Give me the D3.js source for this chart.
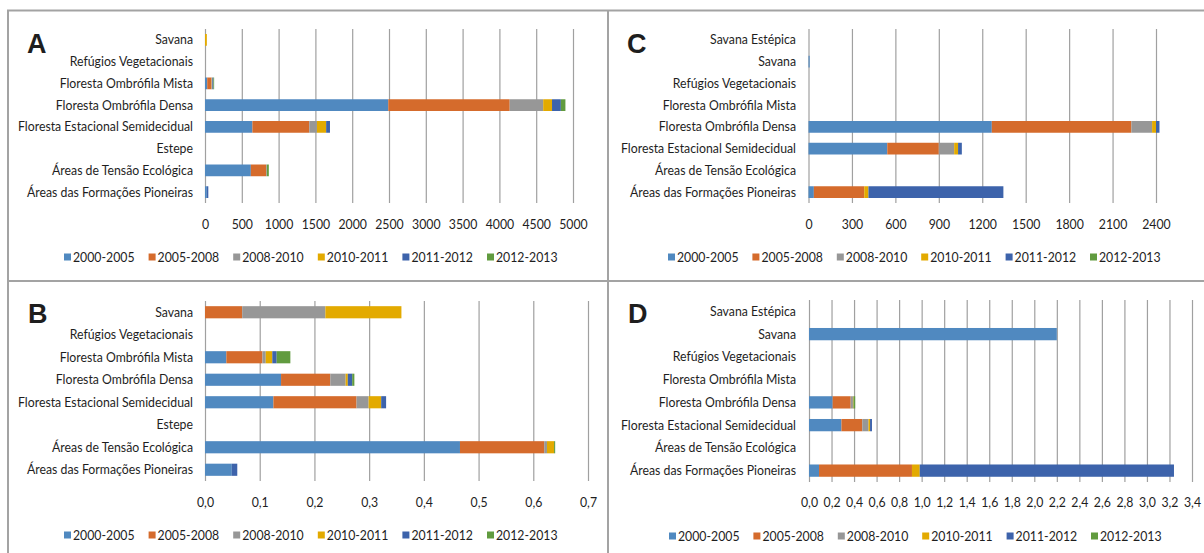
<!DOCTYPE html>
<html><head><meta charset="utf-8">
<script src="https://cdn.jsdelivr.net/npm/d3@7"></script>
<style>
html,body{margin:0;padding:0;background:#fff;}
svg{display:block;}
.t{font-family:Lato,"Open Sans",sans-serif;font-size:13px;fill:#1e1e1e;}
.letter{font-family:"Liberation Sans",Arial,sans-serif;font-weight:bold;font-size:27px;fill:#1e1e1e;}
</style></head>
<body>
<svg id="chart" width="1204" height="553"></svg>
<script>
const seriesNames = ["2000-2005","2005-2008","2008-2010","2010-2011","2011-2012","2012-2013"];
const seriesColors = ["#5089C0","#D56B2C","#979797","#E3AA00","#3D63AB","#619B3F"];

const catsAB = ["Savana","Refúgios Vegetacionais","Floresta Ombrófila Mista","Floresta Ombrófila Densa","Floresta Estacional Semidecidual","Estepe","Áreas de Tensão Ecológica","Áreas das Formações Pioneiras"];
const catsCD = ["Savana Estépica","Savana","Refúgios Vegetacionais","Floresta Ombrófila Mista","Floresta Ombrófila Densa","Floresta Estacional Semidecidual","Áreas de Tensão Ecológica","Áreas das Formações Pioneiras"];

// rows = categories, columns = series (2000-2005 ... 2012-2013)
const valuesA = [
  [0,0,0,25,0,0],
  [0,0,0,0,0,0],
  [30,58,5,6,15,10],
  [2490,1650,455,120,120,62],
  [644,773,104,125,52,0],
  [0,0,0,0,0,0],
  [623,208,10,0,0,26],
  [25,0,0,0,20,0]
];
const valuesB = [
  [0,0.068,0.152,0.139,0,0],
  [0,0,0,0,0,0],
  [0.039,0.066,0.006,0.012,0.008,0.025],
  [0.139,0.090,0.028,0.004,0.008,0.004],
  [0.125,0.152,0.022,0.023,0.009,0],
  [0,0,0,0,0,0],
  [0.466,0.154,0.005,0.013,0,0.002],
  [0.049,0,0,0,0.010,0]
];
const valuesC = [
  [0,0,0,0,0,0],
  [8,0,0,0,0,0],
  [0,0,0,0,0,0],
  [0,0,0,0,0,0],
  [1266,964,143,27,24,0],
  [544,356,106,27,26,0],
  [0,0,0,0,0,0],
  [37,348,0,29,932,0]
];
const valuesD = [
  [0,0,0,0,0,0],
  [2.2,0,0,0,0,0],
  [0,0,0,0,0,0],
  [0,0,0,0,0,0],
  [0.21,0.16,0.02,0.005,0,0.015],
  [0.288,0.185,0.055,0.014,0.017,0],
  [0,0,0,0,0,0],
  [0.089,0.825,0,0.069,2.257,0]
];
const ticksA = d3.range(0, 5001, 500);
const ticksB = d3.range(0, 8).map(i => i / 10);
const ticksC = d3.range(0, 2401, 300);
const ticksD = d3.range(0, 18).map(i => i / 5);

const svg = d3.select("#chart");
const commaFmt = d => d3.format(".1f")(d).replace(".", ",");

// frame lines
const frame = svg.append("g").attr("stroke","#A3A3A3").attr("stroke-width",2);
frame.append("line").attr("x1",7).attr("x2",1204).attr("y1",10.5).attr("y2",10.5);
frame.append("line").attr("x1",8).attr("x2",8).attr("y1",10).attr("y2",553);
frame.append("line").attr("x1",608).attr("x2",608).attr("y1",10).attr("y2",553);
frame.append("line").attr("x1",8).attr("x2",1204).attr("y1",281).attr("y2",281);

function panel(cfg){
  const g = svg.append("g");
  const x = d3.scaleLinear().domain([0, cfg.max]).range([cfg.x0, cfg.x1]);
  const y = d3.scaleBand().domain(cfg.cats).range([cfg.y0, cfg.y1]).paddingInner(0.46).paddingOuter(0.23);

  // gridlines
  g.append("g").attr("transform", `translate(0,${cfg.y1})`)
    .call(d3.axisBottom(x).tickValues(cfg.ticks).tickSize(-(cfg.y1 - cfg.y0)).tickFormat(""))
    .call(a => a.select(".domain").remove())
    .call(a => a.selectAll("line").attr("stroke","#A0A0A0").attr("stroke-width",1.2));

  // tick labels
  g.append("g").attr("transform", `translate(0,${cfg.tickY})`)
    .call(d3.axisBottom(x).tickValues(cfg.ticks).tickSize(0).tickPadding(0).tickFormat(cfg.fmt))
    .call(a => a.select(".domain").remove())
    .call(a => a.selectAll("text").attr("class","t").attr("dy","0.35em").attr("y",0));

  // stacked bars
  const rows = cfg.cats.map((c, i) => {
    const o = {cat: c};
    seriesNames.forEach((s, j) => o[s] = cfg.values[i][j]);
    return o;
  });
  const stack = d3.stack().keys(seriesNames)(rows);
  g.append("g").selectAll("g").data(stack).join("g")
    .attr("fill", (d, i) => seriesColors[i])
    .selectAll("rect").data(d => d.filter(p => p[1] - p[0] > 0)).join("rect")
    .attr("x", p => x(p[0]))
    .attr("width", p => x(p[1]) - x(p[0]))
    .attr("y", p => y(p.data.cat))
    .attr("height", y.bandwidth());

  // category labels
  g.append("g").selectAll("text").data(cfg.cats).join("text")
    .attr("class","t cat")
    .attr("x", cfg.labelX)
    .attr("y", c => y(c) + y.bandwidth() / 2)
    .attr("dy","0.35em")
    .attr("text-anchor","end")
    .text(c => c);

  // letter
  g.append("text").attr("class","letter").attr("x", cfg.lx).attr("y", cfg.ly).text(cfg.letter);

  // legend
  const lg = g.append("g").selectAll("g").data(seriesNames).join("g")
    .attr("transform", (d, i) => `translate(${cfg.legX + i * cfg.legStep},${cfg.legY})`);
  lg.append("rect").attr("x",0).attr("y",-3.5).attr("width",7).attr("height",7)
    .attr("fill", (d, i) => seriesColors[i]);
  lg.append("text").attr("class","t leg").attr("x",9).attr("y",0).attr("dy","0.35em").text(d => d);
}

panel({letter:"A", lx:27, ly:53, cats:catsAB, values:valuesA, max:5000, ticks:ticksA, fmt:d3.format("d"),
  x0:205, x1:573, y0:29, y1:203, labelX:193, tickY:224, legX:64, legStep:84.6, legY:257});
panel({letter:"C", lx:627, ly:53, cats:catsCD, values:valuesC, max:2400, ticks:ticksC, fmt:d3.format("d"),
  x0:808.5, x1:1156, y0:29, y1:203, labelX:796, tickY:224, legX:668, legStep:84.4, legY:257});
panel({letter:"B", lx:28, ly:323, cats:catsAB, values:valuesB, max:0.7, ticks:ticksB, fmt:commaFmt,
  x0:205, x1:588, y0:301, y1:481, labelX:193, tickY:502, legX:64, legStep:84.6, legY:535});
panel({letter:"D", lx:628, ly:323, cats:catsCD, values:valuesD, max:3.4, ticks:ticksD, fmt:commaFmt,
  x0:809, x1:1192, y0:300, y1:482, labelX:796, tickY:502, legX:669, legStep:84.4, legY:536});

// condense text horizontally to mimic the narrow original face
const probe = svg.append("text").attr("class","t").text("Floresta Estacional Semidecidual");
const k = 175 / probe.node().getComputedTextLength();
probe.remove();
svg.selectAll("text.t").each(function(){
  const w = this.getComputedTextLength();
  d3.select(this).attr("textLength", w * k).attr("lengthAdjust","spacingAndGlyphs");
});
</script>
</body></html>
